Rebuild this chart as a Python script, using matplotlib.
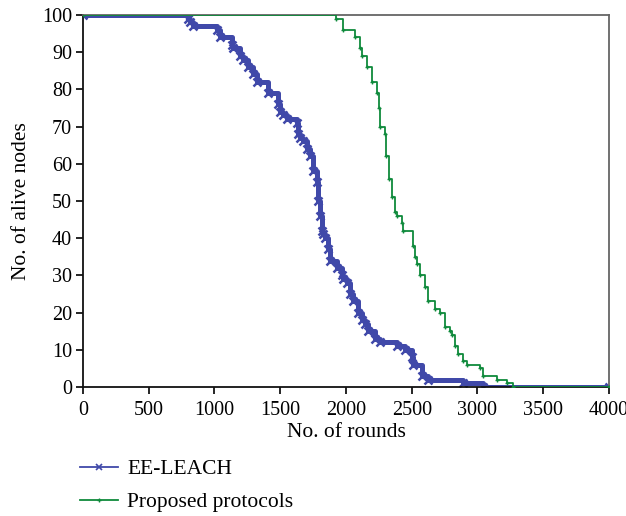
import matplotlib
matplotlib.use("Agg")
import matplotlib.pyplot as plt
from matplotlib.lines import Line2D

ee_rounds = [0, 800, 815, 840, 1016, 1040, 1130, 1140, 1195, 1220, 1257, 1295, 1320, 1409,
             1483, 1498, 1520, 1549, 1625, 1638, 1650, 1675, 1700, 1726, 1751, 1777, 1790,
             1802, 1815, 1827, 1840, 1865, 1878, 1929, 1967, 1980, 2005, 2030, 2056, 2094,
             2119, 2144, 2170, 2221, 2258, 2386, 2450, 2500, 2510, 2575, 2626, 2890, 3040, 4000]
ee_alive = [100, 99, 98, 97, 96, 94, 92, 91, 89, 88, 86, 84, 82, 79,
            76, 74, 73, 72, 71, 68, 67, 66, 64, 62, 58, 55, 50,
            46, 42, 41, 40, 37, 34, 32, 30, 29, 28, 25, 23, 20,
            18, 17, 15, 13, 12, 11, 10, 8, 6, 3, 2, 1, 0, 0]

pp_rounds = [0, 1925, 1977, 2068, 2105, 2119, 2157, 2195, 2233, 2250, 2259, 2297, 2304,
             2329, 2347, 2370, 2386, 2423, 2435, 2510, 2525, 2538, 2562, 2600, 2626, 2677,
             2715, 2753, 2790, 2804, 2829, 2854, 2892, 2917, 3019, 3042, 3146, 3222, 3270, 4000]
pp_alive = [100, 99, 96, 94, 91, 89, 86, 82, 79, 75, 70, 68, 62,
            56, 51, 47, 46, 44, 42, 38, 35, 33, 30, 27, 23, 21,
            20, 16, 15, 14, 11, 9, 7, 6, 5, 3, 2, 1, 0, 0]

x_ticks = [0, 500, 1000, 1500, 2000, 2500, 3000, 3500, 4000]
y_ticks = [0, 10, 20, 30, 40, 50, 60, 70, 80, 90, 100]

blue = "#4049A9"
green = "#0F8A3C"

plt.rcParams['font.family'] = ['Liberation Serif', 'DejaVu Serif']

fig = plt.figure(figsize=(6.26, 5.16), dpi=100)
ax = fig.add_axes([0.1326, 0.25, 0.8402, 0.721])

ax.plot(ee_rounds, ee_alive, drawstyle='steps-post', color=blue, lw=3.6,
        marker='x', ms=5.5, mew=1.8, zorder=2)
ax.plot(pp_rounds, pp_alive, drawstyle='steps-post', color=green, lw=1.3,
        marker='+', ms=3.5, mew=1.0, zorder=3)

ax.set_xlim(0, 4000)
ax.set_ylim(0, 100)
ax.set_xticks(x_ticks)
ax.set_yticks(y_ticks)
ax.tick_params(axis='both', labelsize=14.5, direction='out', length=5, width=1.2,
               top=False, right=False)
ax.tick_params(axis='x', pad=5)
ax.tick_params(axis='y', pad=3)
for s in ['left', 'bottom']:
    ax.spines[s].set_color('#111111')
    ax.spines[s].set_linewidth(1.3)
for s in ['top', 'right']:
    ax.spines[s].set_color('#666666')
    ax.spines[s].set_linewidth(1.3)

ax.set_xlabel('No. of rounds', fontsize=15.5, labelpad=2)
ax.set_ylabel('No. of alive nodes', fontsize=15.5, labelpad=8)

handles = [Line2D([], [], color=blue, lw=1.3, marker='x', ms=4, mew=1.2),
           Line2D([], [], color=green, lw=1.3, marker='+', ms=3, mew=1.0)]
fig.legend(handles, ['EE-LEACH', 'Proposed protocols'], loc='upper left',
           bbox_to_anchor=(0.128, 0.110), frameon=False, fontsize=15.5,
           handlelength=1.75, handletextpad=0.45, numpoints=1, labelspacing=0.6,
           borderaxespad=0, borderpad=0)

fig.savefig('out.png', dpi=100)
